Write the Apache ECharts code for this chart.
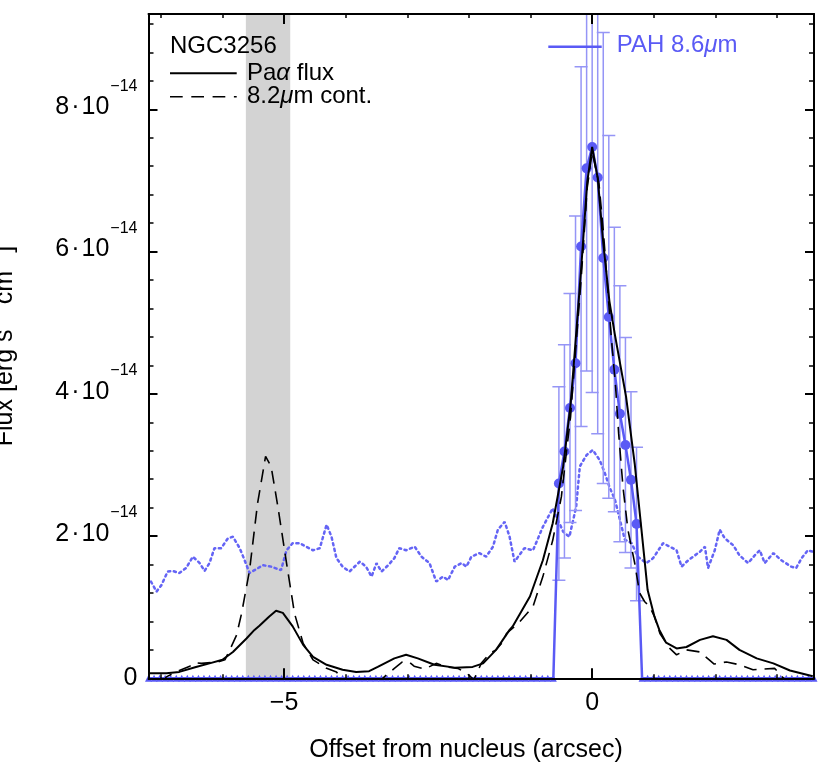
<!DOCTYPE html>
<html><head><meta charset="utf-8">
<script src="https://cdn.jsdelivr.net/npm/echarts@6/dist/echarts.min.js"></script>
<style>html,body{margin:0;padding:0;background:#fff}#c{width:830px;height:772px}</style>
</head><body><div id="c"></div>
<script>
// ---------- tick definitions ----------
const xMajorTicks = [-5, 0];
const xMinorTicks = [-7, -6, -5, -4, -3, -2, -1, 0, 1, 2, 3];
const yMajorTicks = [0, 2, 4, 6, 8];
const yMinorTicks = [0, 0.4, 0.8, 1.2, 1.6, 2, 2.4, 2.8, 3.2, 3.6, 4, 4.4, 4.8, 5.2, 5.6, 6, 6.4, 6.8, 7.2, 7.6, 8, 8.4, 8.8, 9.2];
const yExponent = '−14';

// ---------- Pa alpha flux (solid), units 1e-14 ----------
const paaX = [-7.18,-6.91,-6.70,-6.43,-6.21,-6.00,-5.83,-5.61,-5.48,-5.40,-5.24,-5.13,-5.02,-4.86,-4.69,-4.53,-4.31,-4.05,-3.83,-3.62,-3.48,-3.21,-3.02,-2.83,-2.56,-2.23,-1.94,-1.77,-1.56,-1.45,-1.34,-1.29,-1.01,-0.80,-0.64,-0.47,-0.35,-0.28,-0.18,-0.08,0.00,0.09,0.18,0.28,0.365,0.55,0.69,0.80,0.90,1.01,1.09,1.20,1.37,1.53,1.75,1.96,2.18,2.39,2.67,2.94,3.21,3.58];
const paaY = [0.07,0.07,0.09,0.16,0.21,0.26,0.37,0.56,0.68,0.74,0.87,0.95,0.92,0.73,0.47,0.30,0.19,0.12,0.09,0.10,0.16,0.28,0.33,0.28,0.19,0.15,0.16,0.21,0.40,0.54,0.68,0.73,1.15,1.66,2.18,2.98,3.85,4.62,5.74,6.98,7.47,7.03,6.12,5.3,4.85,3.96,3.02,2.09,1.24,0.87,0.68,0.50,0.42,0.44,0.54,0.59,0.54,0.40,0.28,0.21,0.11,0.03];

// ---------- 8.2 micron continuum (dashed) ----------
const contX = [-7.18,-6.91,-6.75,-6.53,-6.45,-6.34,-6.07,-5.96,-5.88,-5.77,-5.69,-5.56,-5.43,-5.30,-5.21,-5.10,-4.96,-4.83,-4.69,-4.53,-4.31,-4.15,-3.94,-3.70,-3.40,-3.21,-3.08,-2.97,-2.89,-2.72,-2.53,-2.37,-2.18,-2.02,-1.92,-1.80,-1.66,-1.56,-1.45,-1.39,-1.20,-0.96,-0.80,-0.64,-0.50,-0.42,-0.35,-0.31,-0.18,-0.08,0.00,0.11,0.18,0.25,0.31,0.38,0.43,0.50,0.58,0.69,0.77,0.85,0.93,1.01,1.10,1.26,1.37,1.53,1.75,1.90,1.98,2.18,2.39,2.61,2.78,2.96,3.04,3.20,3.58];
const contY = [-0.3,0.02,0.09,0.17,0.22,0.21,0.23,0.26,0.40,0.61,0.91,1.52,2.46,3.12,2.98,2.41,1.62,0.91,0.49,0.26,0.14,0.09,-0.15,-0.2,0.0,0.14,0.23,0.23,0.17,0.13,0.21,0.16,0.14,0.06,-0.02,0.21,0.35,0.40,0.51,0.63,0.77,1.01,1.43,1.94,2.55,3.16,3.68,4.15,5.6,6.9,7.40,6.96,6.3,5.5,4.8,4.1,3.44,2.69,2.09,1.62,1.20,1.08,1.01,0.87,0.63,0.42,0.33,0.40,0.37,0.26,0.20,0.23,0.19,0.12,0.13,0.14,0.07,-0.1,-0.3];

// ---------- dotted blue profile ----------
const dotX = [-7.16,-7.07,-6.99,-6.89,-6.81,-6.70,-6.59,-6.48,-6.37,-6.29,-6.21,-6.13,-6.02,-5.91,-5.83,-5.72,-5.64,-5.56,-5.48,-5.34,-5.21,-5.05,-4.96,-4.86,-4.75,-4.64,-4.53,-4.42,-4.31,-4.23,-4.15,-4.05,-3.94,-3.77,-3.67,-3.58,-3.50,-3.42,-3.31,-3.21,-3.13,-3.02,-2.88,-2.77,-2.64,-2.53,-2.42,-2.34,-2.23,-2.12,-2.04,-1.96,-1.83,-1.72,-1.61,-1.53,-1.42,-1.34,-1.26,-1.10,-0.96,-0.80,-0.64,-0.47,-0.37,-0.26,-0.20,-0.09,0.01,0.12,0.20,0.28,0.37,0.45,0.53,0.64,0.74,0.88,0.99,1.15,1.26,1.37,1.45,1.56,1.75,1.83,1.88,1.99,2.07,2.15,2.29,2.39,2.53,2.64,2.72,2.80,2.94,3.07,3.23,3.31,3.40,3.50,3.58];
const dotY = [1.36,1.22,1.31,1.50,1.51,1.48,1.55,1.71,1.62,1.51,1.62,1.83,1.83,1.97,1.99,1.83,1.66,1.48,1.52,1.59,1.57,1.52,1.80,1.90,1.90,1.85,1.80,1.83,2.16,1.99,1.69,1.57,1.50,1.64,1.57,1.43,1.62,1.50,1.59,1.69,1.83,1.80,1.85,1.71,1.62,1.36,1.43,1.38,1.57,1.62,1.57,1.71,1.76,1.71,1.85,2.09,2.20,1.99,1.64,1.83,1.80,2.13,2.39,2.06,1.99,2.41,2.98,3.14,3.21,3.07,2.90,2.69,2.51,2.23,1.95,1.90,1.71,1.62,1.69,1.90,1.85,1.80,1.57,1.66,1.78,1.85,1.55,1.80,2.09,1.97,1.87,1.73,1.62,1.73,1.80,1.62,1.76,1.66,1.57,1.55,1.69,1.80,1.78];

// ---------- PAH 8.6 micron points with errors ----------
const pahX = [-0.54,-0.45,-0.36,-0.27,-0.18,-0.09,0.00,0.09,0.18,0.27,0.36,0.45,0.54,0.63,0.72];
const pahY = [2.74,3.19,3.80,4.43,6.07,7.17,7.47,7.04,5.91,5.08,4.34,3.72,3.28,2.79,2.17];
const pahErr = [1.36,1.50,1.61,2.07,2.53,2.85,3.45,3.60,3.17,2.55,2.00,1.80,1.51,1.24,1.08];
// PAH profile is zero outside the detected region (sampling step 0.09")
const pahStep = 0.09;
const pahZeroLeft = [-80, -7];   // sample index range (inclusive)
const pahZeroRight = [9, 40];

const bandX = [-5.62, -4.90];

const FONT = '"Liberation Sans", Arial, Helvetica, sans-serif';
const BLUE = '#5a5af5';
const ERRBLUE = '#9595f6';

// build PAH line data (zeros + measured points)
const pahLine = [];
for (let k = pahZeroLeft[0]; k <= pahZeroLeft[1]; k++) pahLine.push([+(k * pahStep).toFixed(2), 0]);
pahX.forEach((x, i) => pahLine.push([x, pahY[i]]));
for (let k = pahZeroRight[0]; k <= pahZeroRight[1]; k++) pahLine.push([+(k * pahStep).toFixed(2), 0]);

const zip = (a, b) => a.map((v, i) => [v, b[i]]);

const XMIN = -7.2, XMAX = 3.6, YMIN = 0, YMAX = 9.34;

function xAxisDef(pos, ticks, len, width, labels) {
  return {
    type: 'value', min: XMIN, max: XMAX, position: pos, z: 10,
    axisLine: { show: !!labels || (pos === 'top' && len > 5), onZero: false, lineStyle: { color: '#000', width: 2 } },
    axisTick: { show: true, inside: true, length: len, customValues: ticks, lineStyle: { color: '#000', width: width } },
    axisLabel: labels ? {
      show: true, customValues: ticks, margin: 12, color: '#000', fontSize: 25, fontFamily: FONT,
      formatter: v => (v < 0 ? '−' + Math.abs(v) : '' + v)
    } : { show: false },
    splitLine: { show: false }
  };
}
function yAxisDef(pos, ticks, len, width, labels) {
  return {
    type: 'value', min: YMIN, max: YMAX, position: pos, z: 10,
    axisLine: { show: len > 5, onZero: false, lineStyle: { color: '#000', width: 2 } },
    axisTick: { show: true, inside: true, length: len, customValues: ticks, lineStyle: { color: '#000', width: width } },
    axisLabel: labels ? {
      show: true, customValues: ticks, margin: 11, color: '#000', fontFamily: FONT,
      formatter: v => v === 0 ? '{z|0}' : `{b|${v}}{d|·}{b|10}{s|${yExponent}}`,
      rich: {
        z: { fontSize: 25, fontFamily: FONT, color: '#000' },
        b: { fontSize: 25, fontFamily: FONT, color: '#000', padding: [0, 0, 4, 0] },
        d: { fontSize: 25, fontFamily: FONT, color: '#000', padding: [0, 2, 4, 2] },
        s: { fontSize: 16, fontFamily: FONT, color: '#000', lineHeight: 16, padding: [0, 0, 46, 1] }
      }
    } : { show: false },
    splitLine: { show: false }
  };
}

const chart = echarts.init(document.getElementById('c'), null, { renderer: 'canvas' });
chart.setOption({
  animation: false,
  backgroundColor: '#fff',
  grid: { left: 148.5, right: 16, top: 14, bottom: 93.7, containLabel: false },
  xAxis: [
    xAxisDef('bottom', xMajorTicks, 10, 2, true),
    xAxisDef('bottom', xMinorTicks, 4, 1.5, false),
    xAxisDef('top', xMajorTicks, 10, 2, false),
    xAxisDef('top', xMinorTicks, 4, 1.5, false)
  ],
  yAxis: [
    yAxisDef('left', yMajorTicks, 9, 2, true),
    yAxisDef('left', yMinorTicks, 5, 1.5, false),
    yAxisDef('right', yMajorTicks, 9, 2, false),
    yAxisDef('right', yMinorTicks, 5, 1.5, false)
  ],
  series: [
    {
      name: 'band', type: 'line', data: [], z: 1, silent: true,
      markArea: {
        silent: true, label: { show: false },
        itemStyle: { color: '#d3d3d3', opacity: 1 },
        data: [[{ xAxis: bandX[0] }, { xAxis: bandX[1] }]]
      }
    },
    {
      name: 'dotted', type: 'line', data: zip(dotX, dotY), z: 2, symbol: 'none', silent: true,
      lineStyle: { color: '#6464f5', width: 2.5, type: [2.2, 3.6], cap: 'round' }
    },
    {
      name: 'pahErr', type: 'custom', z: 3, clip: true, silent: true,
      data: pahX.map((x, i) => [x, pahY[i], pahErr[i]]),
      renderItem: (params, api) => {
        const x = api.value(0), y = api.value(1), e = api.value(2);
        const top = api.coord([x, y + e]);
        const bot = api.coord([x, y - e]);
        const hw = 6.5;
        const st = { stroke: ERRBLUE, lineWidth: 1.5 };
        return {
          type: 'group', children: [
            { type: 'line', shape: { x1: top[0], y1: top[1], x2: bot[0], y2: bot[1] }, style: st },
            { type: 'line', shape: { x1: top[0] - hw, y1: top[1], x2: top[0] + hw, y2: top[1] }, style: st },
            { type: 'line', shape: { x1: bot[0] - hw, y1: bot[1], x2: bot[0] + hw, y2: bot[1] }, style: st }
          ]
        };
      }
    },
    {
      name: 'PAH', type: 'line', data: pahLine, z: 4, silent: true,
      lineStyle: { color: BLUE, width: 2.5 },
      itemStyle: { color: BLUE },
      symbol: (v) => v[1] > 0 ? 'circle' : 'triangle',
      symbolSize: (v) => v[1] > 0 ? 10 : 7
    },
    {
      name: 'cont', type: 'line', data: zip(contX, contY), z: 5, symbol: 'none', silent: true,
      lineStyle: { color: '#000', width: 1.6, type: [13, 8] }
    },
    {
      name: 'paa', type: 'line', data: zip(paaX, paaY), z: 6, symbol: 'none', silent: true,
      lineStyle: { color: '#000', width: 2 }
    }
  ],
  graphic: [
    // legend (left)
    { type: 'text', z: 100, x: 170, y: 46, style: { text: 'NGC3256', font: `24px ${FONT}`, fill: '#000', textVerticalAlign: 'middle' } },
    { type: 'line', z: 100, shape: { x1: 170, y1: 73.3, x2: 236.7, y2: 73.3 }, style: { stroke: '#000', lineWidth: 2 } },
    { type: 'text', z: 100, x: 247, y: 73.5, style: { text: 'Pa{i|α} flux', font: `24px ${FONT}`, fill: '#000', textVerticalAlign: 'middle',
        rich: { i: { fontStyle: 'italic', fontSize: 24, fontFamily: FONT, fill: '#000' } } } },
    { type: 'line', z: 100, shape: { x1: 170, y1: 96.7, x2: 236.7, y2: 96.7 }, style: { stroke: '#000', lineWidth: 1.6, lineDash: [12.7, 8.6] } },
    { type: 'text', z: 100, x: 247, y: 96.5, style: { text: '8.2{i|μ}m cont.', font: `24px ${FONT}`, fill: '#000', textVerticalAlign: 'middle',
        rich: { i: { fontStyle: 'italic', fontSize: 24, fontFamily: FONT, fill: '#000' } } } },
    // legend (right)
    { type: 'line', z: 100, shape: { x1: 548.3, y1: 46.7, x2: 601.7, y2: 46.7 }, style: { stroke: BLUE, lineWidth: 2.5 } },
    { type: 'text', z: 100, x: 616.7, y: 45, style: { text: 'PAH 8.6{i|μ}m', font: `24px ${FONT}`, fill: BLUE, textVerticalAlign: 'middle',
        rich: { i: { fontStyle: 'italic', fontSize: 24, fontFamily: FONT, fill: BLUE } } } },
    // axis titles
    { type: 'text', z: 100, x: 466, y: 750, style: { text: 'Offset from nucleus (arcsec)', font: `25px ${FONT}`, fill: '#000', textAlign: 'center', textVerticalAlign: 'middle' } },
    { type: 'text', z: 100, x: 5, y: 346, rotation: Math.PI / 2, style: {
        text: '{a|Flux [erg s}{s|−1}{a| cm}{s|−2}{a|]}', fill: '#000', textAlign: 'center', textVerticalAlign: 'middle',
        rich: { a: { fontSize: 25, fontFamily: FONT, fill: '#000' }, s: { fontSize: 16, fontFamily: FONT, fill: '#000', padding: [0, 0, 30, 0] } } } }
  ]
});
</script></body></html>
